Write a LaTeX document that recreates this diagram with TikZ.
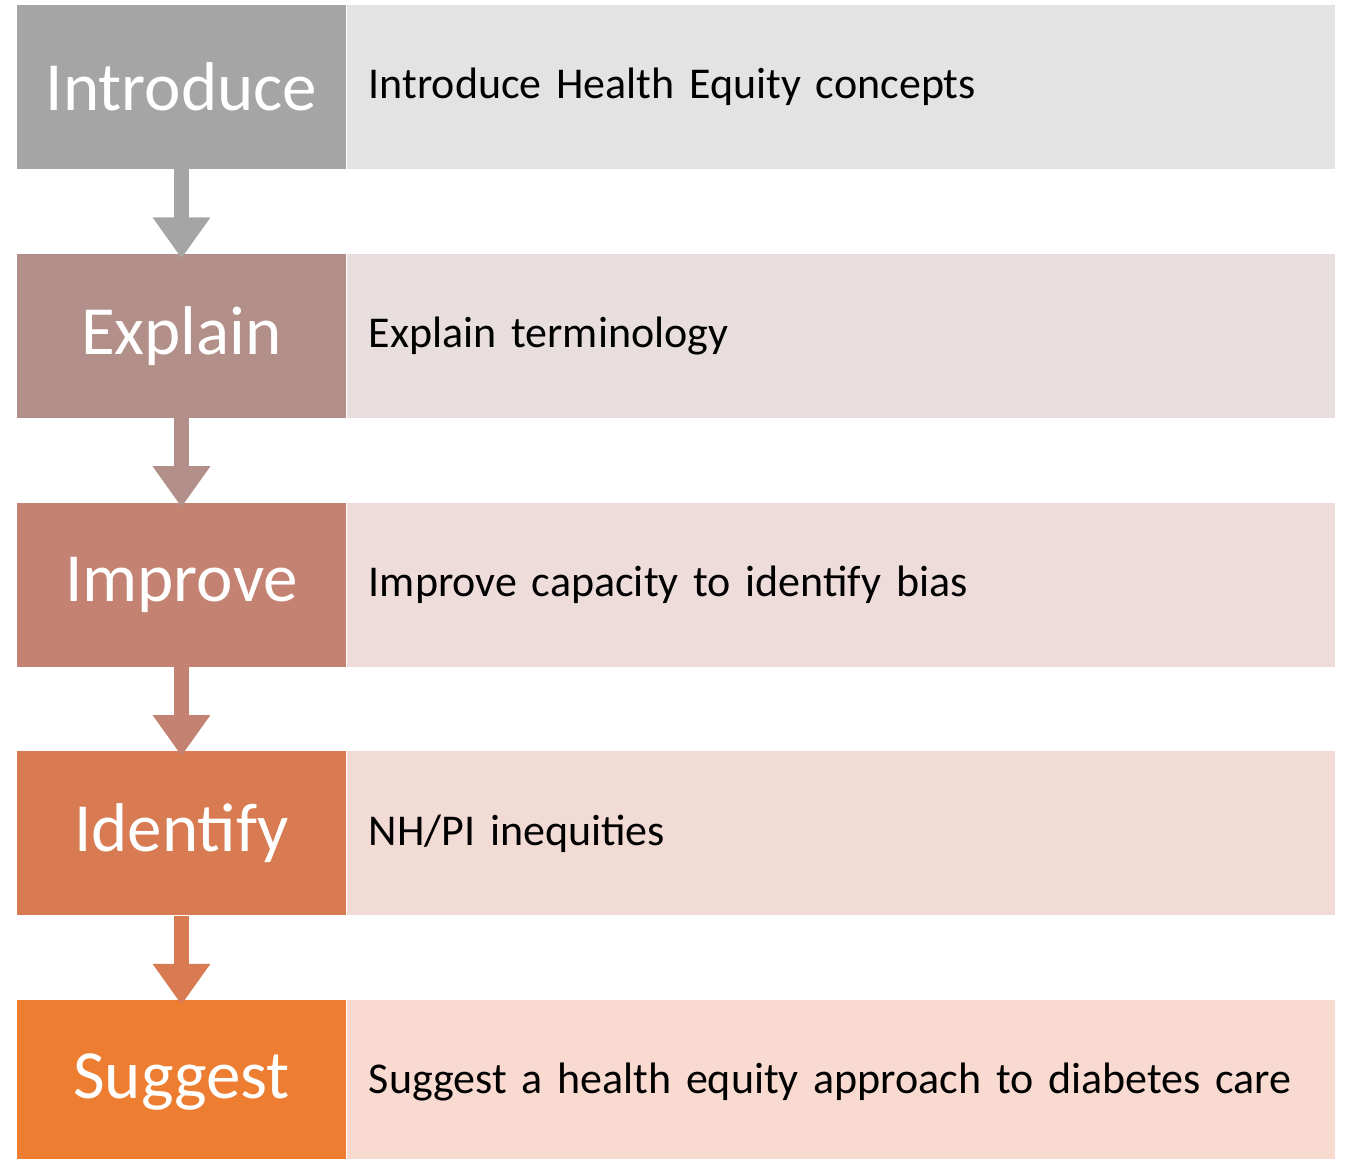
\documentclass[tikz,border=0pt]{standalone}
\usepackage{fontspec}
\setmainfont{Carlito}
\usepackage{tikz}
\usetikzlibrary{arrows.meta, positioning}

\definecolor{gIntro}{HTML}{A5A5A5}
\definecolor{gIntroL}{HTML}{E3E3E3}
\definecolor{gExpl}{HTML}{B28F89}
\definecolor{gExplL}{HTML}{E8DEDD}
\definecolor{gImpr}{HTML}{C48272}
\definecolor{gImprL}{HTML}{EDDCDA}
\definecolor{gIden}{HTML}{D87B52}
\definecolor{gIdenL}{HTML}{F3DBD5}
\definecolor{gSugg}{HTML}{ED7D31}
\definecolor{gSuggL}{HTML}{F8DAD1}

\begin{document}
\begin{tikzpicture}[
        x=0.5pt, y=-0.5pt,
        node distance=42pt,
        stepbox/.style={rectangle, inner sep=0pt, minimum width=164.5pt, minimum height=82pt,
            text=white, font=\fontsize{34.5}{40}\selectfont},
        descbox/.style={rectangle, inner sep=0pt, minimum width=494pt, minimum height=82pt,
            text=black, font=\fontsize{22}{26}\selectfont, align=left, text width=472pt},
        flow/.style={line width=7.5pt, -{Triangle[width=27.5pt, length=20.5pt]}, shorten >=-2.5pt}
    ]
        \useasboundingbox (0,0) rectangle (1348,1159);

        % left column
        \node[stepbox, fill=gIntro] (introduce) at (181.5,87) {Introduce};
        \node[stepbox, fill=gExpl, below=of introduce] (explain) {Explain};
        \node[stepbox, fill=gImpr, below=of explain] (improve) {Improve};
        \node[stepbox, fill=gIden, below=of improve] (identify) {Identify};
        \node[stepbox, fill=gSugg, below=of identify] (suggest) {Suggest};

        % right column
        \node[descbox, fill=gIntroL, right=0pt of introduce] (introtext) {Introduce Health Equity concepts};
        \node[descbox, fill=gExplL, right=0pt of explain] (expltext) {Explain terminology};
        \node[descbox, fill=gImprL, right=0pt of improve] (imprtext) {Improve capacity to identify bias};
        \node[descbox, fill=gIdenL, right=0pt of identify] (identext) {NH/PI inequities};
        \node[descbox, fill=gSuggL, right=0pt of suggest] (suggtext) {Suggest a health equity approach to diabetes care};

        % arrows
        \draw[flow, gIntro] (introduce) -- (explain);
        \draw[flow, gExpl] (explain) -- (improve);
        \draw[flow, gImpr] (improve) -- (identify);
        \draw[flow, gIden] (identify) -- (suggest);

    \end{tikzpicture}
\end{document}
